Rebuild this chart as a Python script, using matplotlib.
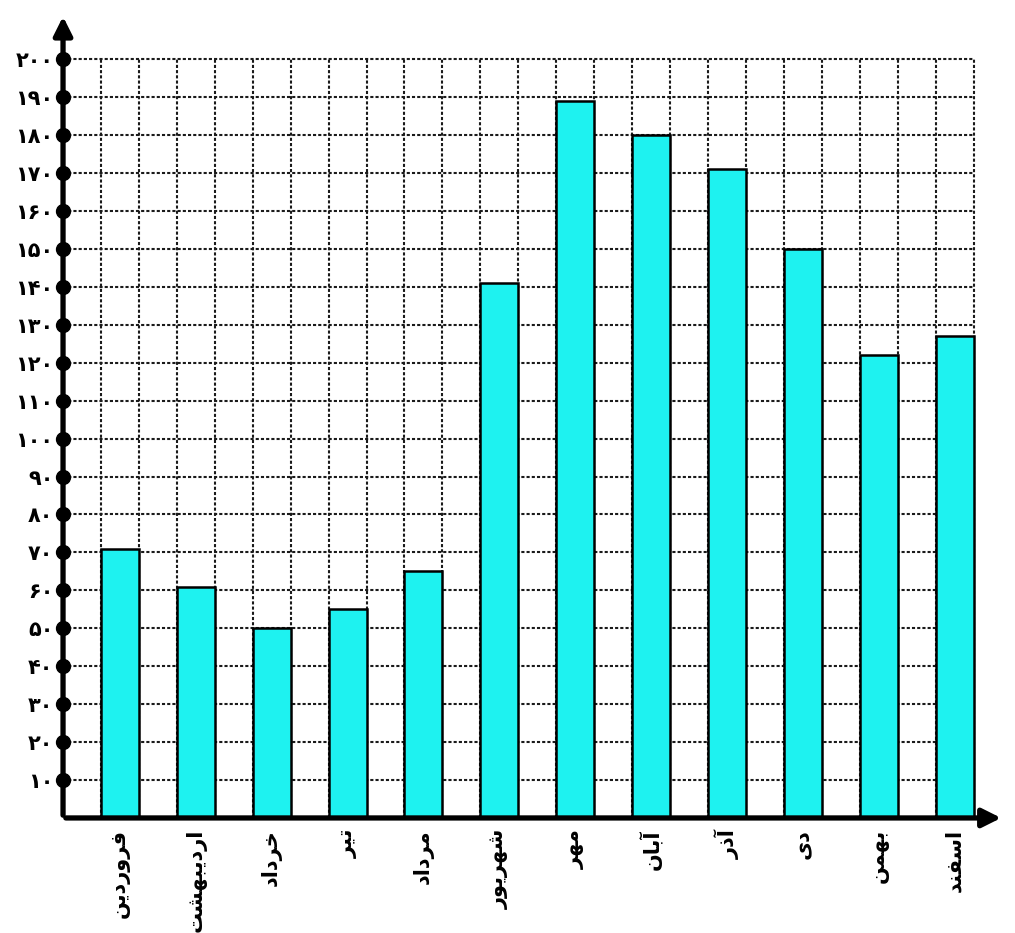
import matplotlib
matplotlib.use("Agg")
import matplotlib.pyplot as plt

months = ["فروردین", "اردیبهشت", "خرداد", "تیر", "مرداد", "شهریور",
          "مهر", "آبان", "آذر", "دی", "بهمن", "اسفند"]
values = [71, 61, 50, 55, 65, 141, 189, 180, 171, 150, 122, 127]
y_ticks = list(range(10, 201, 10))

# matplotlib has no arabic shaping, so pick presentation forms by hand
# (isolated, final, initial, medial); right-joining letters have only 2
FORMS = {
    "ا": "\uFE8D\uFE8E", "آ": "\uFE81\uFE82", "د": "\uFEA9\uFEAA",
    "ذ": "\uFEAB\uFEAC", "ر": "\uFEAD\uFEAE", "و": "\uFEED\uFEEE",
    "ب": "\uFE8F\uFE90\uFE91\uFE92", "ت": "\uFE95\uFE96\uFE97\uFE98",
    "خ": "\uFEA5\uFEA6\uFEA7\uFEA8", "س": "\uFEB1\uFEB2\uFEB3\uFEB4",
    "ش": "\uFEB5\uFEB6\uFEB7\uFEB8", "ف": "\uFED1\uFED2\uFED3\uFED4",
    "م": "\uFEE1\uFEE2\uFEE3\uFEE4", "ن": "\uFEE5\uFEE6\uFEE7\uFEE8",
    "ه": "\uFEE9\uFEEA\uFEEB\uFEEC", "ی": "\uFBFC\uFBFD\uFBFE\uFBFF",
}


def shape(word):
    out = []
    for i, ch in enumerate(word):
        f = FORMS.get(ch)
        if f is None:
            out.append(ch)
            continue
        prev = word[i - 1] if i > 0 else None
        nxt = word[i + 1] if i < len(word) - 1 else None
        join_prev = prev is not None and prev in FORMS and len(FORMS[prev]) == 4
        join_next = nxt is not None and nxt in FORMS and len(f) == 4
        if join_prev and join_next:
            out.append(f[3])
        elif join_prev:
            out.append(f[1])
        elif join_next:
            out.append(f[2])
        else:
            out.append(f[0])
    return "".join(out)[::-1]


def fa_num(n):
    return str(n).translate(str.maketrans("0123456789", "۰۱۲۳۴۵۶۷۸۹"))


fig = plt.figure(figsize=(10.15, 9.33), dpi=100)
ax = fig.add_axes([0.0621, 0.1233, 0.927, 0.862])
ax.set_xlim(0, 24.8)
ax.set_ylim(0, 212)
for s in ax.spines.values():
    s.set_visible(False)

# dotted grid
ax.hlines(y_ticks, 0, 24, colors="#1a1a1a", linestyles=(0, (1.5, 1.0)), lw=1.5, zorder=1)
ax.vlines(range(1, 25), 0, 200, colors="#1a1a1a", linestyles=(0, (1.5, 1.0)), lw=1.5, zorder=1)

xs = [2 * i + 1.5 for i in range(len(months))]
ax.bar(xs, values, width=1.0, color="#1ef2f0", edgecolor="black", lw=1.8, zorder=2)

# axes with arrows
ax.annotate("", xy=(0, 212), xytext=(0, 0),
            arrowprops=dict(arrowstyle="-|>", lw=3.8, color="black", mutation_scale=28),
            annotation_clip=False, zorder=4)
ax.annotate("", xy=(24.8, 0), xytext=(0, 0),
            arrowprops=dict(arrowstyle="-|>", lw=3.8, color="black", mutation_scale=28),
            annotation_clip=False, zorder=4)
ax.plot([0] * len(y_ticks), y_ticks, "o", color="black", ms=10, zorder=5, clip_on=False)

ax.set_yticks(y_ticks)
ax.set_yticklabels([fa_num(v) for v in y_ticks], fontsize=15, fontweight="bold",
                   family=["DejaVu Sans"])
ax.set_xticks(xs)
ax.set_xticklabels([shape(m) for m in months], rotation=90, fontsize=15,
                   fontweight="bold", family=["DejaVu Sans"])
ax.tick_params(axis="y", length=0, pad=7)
ax.tick_params(axis="x", length=0, pad=8)

fig.savefig("out.png", dpi=100)
